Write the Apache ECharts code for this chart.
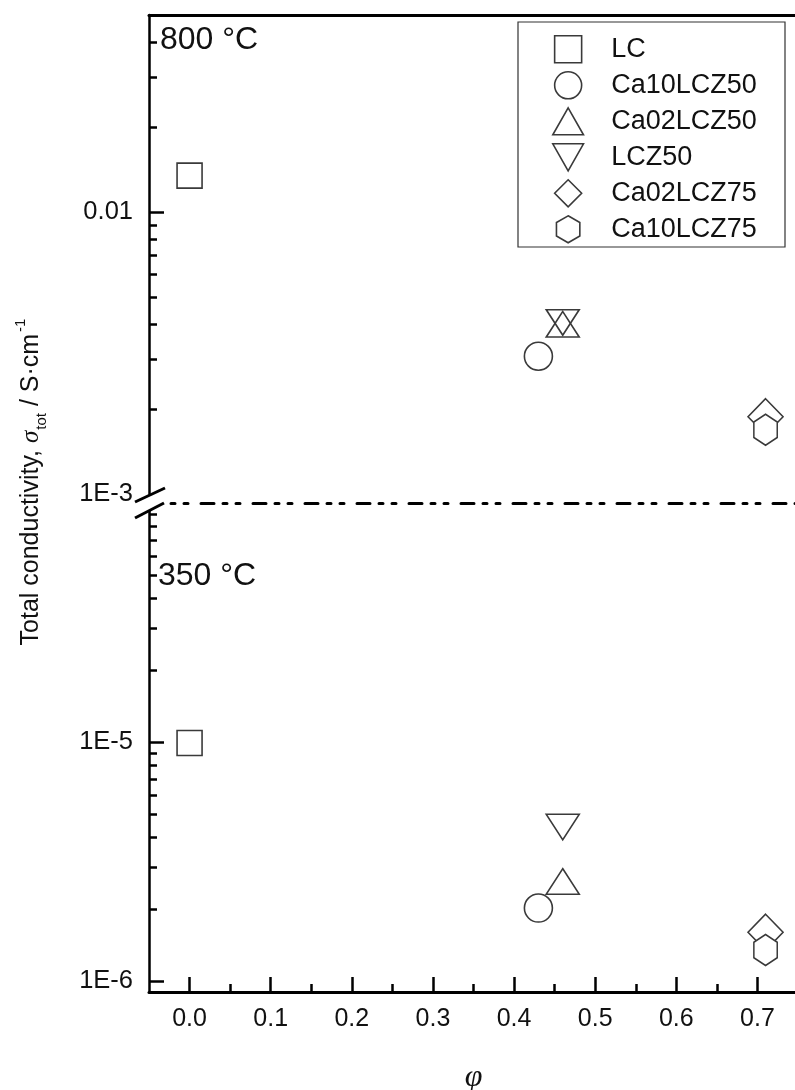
<!DOCTYPE html>
<html>
<head>
<meta charset="utf-8">
<script src="https://cdn.jsdelivr.net/npm/echarts@6/dist/echarts.min.js"></script>
<style>
html,body{margin:0;padding:0;background:#fff;}
#chart{width:795px;height:1090px;}
</style>
</head>
<body>
<div id="chart"></div>
<script>
// ---- data ----
const samples = ['LC', 'Ca10LCZ50', 'Ca02LCZ50', 'LCZ50', 'Ca02LCZ75', 'Ca10LCZ75'];
const phi = [0.0, 0.43, 0.46, 0.46, 0.71, 0.71];
const sigma800 = [0.01347, 0.00308, 0.00400, 0.00406, 0.00188, 0.00169];
const sigma350 = [9.9e-6, 2.02e-6, 2.61e-6, 4.41e-6, 1.60e-6, 1.35e-6];

const xMajorTicks = [0.0, 0.1, 0.2, 0.3, 0.4, 0.5, 0.6, 0.7];
const xMinorTicks = [0.05, 0.15, 0.25, 0.35, 0.45, 0.55, 0.65];
const upperMajorTicks = [0.01];
const upperLabelValues = [0.001, 0.01];
const upperLabels = ['1E-3', '0.01'];
const upperMinorTicks = [0.002, 0.003, 0.004, 0.005, 0.006, 0.007, 0.008, 0.009, 0.02, 0.03, 0.04];
const lowerMajorTicks = [1e-6, 1e-5];
const lowerLabelValues = [1e-6, 1e-5];
const lowerLabels = ['1E-6', '1E-5'];
const lowerMinorTicks = [2e-6, 3e-6, 4e-6, 5e-6, 6e-6, 7e-6, 8e-6, 9e-6, 2e-5, 3e-5, 4e-5, 5e-5, 6e-5, 7e-5, 8e-5, 9e-5];

// ---- styles ----
const FONT = 'Liberation Sans, Arial, sans-serif';
const symbols = [
  'path://M0,0H1V1H0Z',
  'circle',
  'path://M1,0L2,1.76L0,1.76Z',
  'path://M0,0L2,0L1,1.76Z',
  'path://M1,0L2,1L1,2L0,1Z',
  'path://M0.866,0L1.732,0.5L1.732,1.5L0.866,2L0,1.5L0,0.5Z'
];
const symbolSizes = [[25, 25], 28, [33, 29], [33, 29], [35, 36], [27, 31]];
const fills = ['rgba(255,255,255,0)', 'rgba(255,255,255,0)', 'rgba(255,255,255,0)', 'rgba(255,255,255,0)', 'rgba(255,255,255,0)', '#ffffff'];
const STROKE = '#3a3a3a';

function labelFor(values, labels) {
  return function (v) {
    for (let i = 0; i < values.length; i++) {
      if (Math.abs(Math.log10(v) - Math.log10(values[i])) < 1e-6) return labels[i];
    }
    return '';
  };
}

const chart = echarts.init(document.getElementById('chart'), null, {renderer: 'canvas'});

const grids = [
  {left: 149, top: 15, width: 649, height: 479, outerBoundsMode: 'none', containLabel: false},
  {left: 149, top: 503, width: 649, height: 489, outerBoundsMode: 'none', containLabel: false}
];

const xAxes = [
  { // upper grid top frame
    gridIndex: 0, type: 'value', min: -0.05, max: 0.75, position: 'top',
    axisLine: {show: true, onZero: false, lineStyle: {color: '#000', width: 3}},
    axisTick: {show: false}, axisLabel: {show: false}, splitLine: {show: false}
  },
  { // lower grid bottom axis with major ticks
    gridIndex: 1, type: 'value', min: -0.05, max: 0.75, position: 'bottom',
    axisLine: {show: true, onZero: false, lineStyle: {color: '#000', width: 3}},
    axisTick: {show: true, inside: true, length: 15, lineStyle: {color: '#000', width: 2.5}, customValues: xMajorTicks},
    axisLabel: {show: true, customValues: xMajorTicks, margin: 15, fontSize: 25, fontFamily: FONT, color: '#111',
      formatter: v => v.toFixed(1)},
    splitLine: {show: false},
    name: 'φ', nameLocation: 'middle', nameGap: 70,
    nameTextStyle: {fontFamily: 'Liberation Serif, Times New Roman, serif', fontStyle: 'italic', fontSize: 32, color: '#111'}
  },
  { // minor ticks
    gridIndex: 1, type: 'value', min: -0.05, max: 0.75, position: 'bottom',
    axisLine: {show: false, onZero: false},
    axisTick: {show: true, inside: true, length: 8, lineStyle: {color: '#000', width: 2.5}, customValues: xMinorTicks},
    axisLabel: {show: false}, splitLine: {show: false}
  },
  { // break line (dash-dot) at top of lower grid
    gridIndex: 1, type: 'value', min: -0.05, max: 0.75, position: 'top',
    axisLine: {show: true, onZero: false, lineStyle: {color: '#000', width: 3, type: [13, 9, 4, 9, 4, 13]}},
    axisTick: {show: false}, axisLabel: {show: false}, splitLine: {show: false}
  }
];

const yAxes = [
  {
    gridIndex: 0, type: 'log', logBase: 10, min: 0.001, max: 0.05, position: 'left',
    axisLine: {show: true, onZero: false, lineStyle: {color: '#000', width: 2.5}},
    axisTick: {show: true, inside: true, length: 15, lineStyle: {color: '#000', width: 2.5}, customValues: upperMajorTicks},
    axisLabel: {show: true, customValues: upperLabelValues, margin: 16, fontSize: 25.5, fontFamily: FONT, color: '#111',
      formatter: labelFor(upperLabelValues, upperLabels)},
    splitLine: {show: false}
  },
  {
    gridIndex: 0, type: 'log', logBase: 10, min: 0.001, max: 0.05, position: 'left',
    axisLine: {show: false, onZero: false},
    axisTick: {show: true, inside: true, length: 8, lineStyle: {color: '#000', width: 2.5}, customValues: upperMinorTicks},
    axisLabel: {show: false}, splitLine: {show: false}
  },
  {
    gridIndex: 1, type: 'log', logBase: 10, min: 9e-7, max: 1e-4, position: 'left',
    axisLine: {show: true, onZero: false, lineStyle: {color: '#000', width: 2.5}},
    axisTick: {show: true, inside: true, length: 15, lineStyle: {color: '#000', width: 2.5}, customValues: lowerMajorTicks},
    axisLabel: {show: true, customValues: lowerLabelValues, margin: 16, fontSize: 25.5, fontFamily: FONT, color: '#111',
      formatter: labelFor(lowerLabelValues, lowerLabels)},
    splitLine: {show: false}
  },
  {
    gridIndex: 1, type: 'log', logBase: 10, min: 9e-7, max: 1e-4, position: 'left',
    axisLine: {show: false, onZero: false},
    axisTick: {show: true, inside: true, length: 8, lineStyle: {color: '#000', width: 2.5}, customValues: lowerMinorTicks},
    axisLabel: {show: false}, splitLine: {show: false}
  }
];

const series = [];
samples.forEach((name, i) => {
  const common = {
    name: name, type: 'scatter', symbol: symbols[i], symbolSize: symbolSizes[i], symbolKeepAspect: true,
    itemStyle: {color: fills[i], borderColor: STROKE, borderWidth: 1.6, opacity: 1},
    emphasis: {disabled: true}, z: 3 + i
  };
  series.push(Object.assign({}, common, {xAxisIndex: 0, yAxisIndex: 0, data: [[phi[i], sigma800[i]]]}));
  series.push(Object.assign({}, common, {xAxisIndex: 1, yAxisIndex: 2, data: [[phi[i], sigma350[i]]]}));
});

const option = {
  backgroundColor: '#fff',
  animation: false,
  grid: grids,
  xAxis: xAxes,
  yAxis: yAxes,
  legend: {
    orient: 'vertical', left: 547, top: 30,
    itemWidth: 76, itemHeight: 27, itemGap: 7.4,
    symbolKeepAspect: true,
    selectedMode: false,
    data: samples,
    textStyle: {fontSize: 27, fontFamily: FONT, color: '#111', lineHeight: 27},
    itemStyle: {borderWidth: 1.6}
  },
  series: series,
  graphic: [
    { type: 'rect', shape: {x: 518, y: 22, width: 267, height: 225},
      style: {fill: 'none', stroke: '#333', lineWidth: 1.2}, z: 10 },
    { type: 'text', x: 160, y: 40,
      style: {text: '800 °C', fontSize: 32, fontFamily: FONT, fill: '#111', verticalAlign: 'middle'}, z: 10 },
    { type: 'text', x: 158, y: 576,
      style: {text: '350 °C', fontSize: 32, fontFamily: FONT, fill: '#111', verticalAlign: 'middle'}, z: 10 },
    // axis break
    { type: 'polygon', shape: {points: [[133, 503], [166, 487], [166, 503], [133, 519]]},
      style: {fill: '#fff', stroke: 'none'}, z: 20 },
    { type: 'line', shape: {x1: 135, y1: 502, x2: 165, y2: 488}, style: {stroke: '#000', lineWidth: 3}, z: 21 },
    { type: 'line', shape: {x1: 135, y1: 518, x2: 164, y2: 503}, style: {stroke: '#000', lineWidth: 3}, z: 21 },
    // y axis title
    { type: 'text', x: 31, y: 482, rotation: Math.PI / 2,
      style: {
        text: '{a|Total conductivity, }{s|σ}{b|tot}{a| / S·cm}{c|-1}',
        align: 'center', verticalAlign: 'middle',
        rich: {
          a: {fontSize: 25, fontFamily: FONT, fill: '#111', lineHeight: 36, verticalAlign: 'middle'},
          s: {fontSize: 25, fontFamily: 'Liberation Serif, serif', fontStyle: 'italic', fill: '#111', lineHeight: 36},
          b: {fontSize: 15, fontFamily: FONT, fill: '#111', lineHeight: 36, verticalAlign: 'bottom', padding: [14, 0, 0, 1]},
          c: {fontSize: 15, fontFamily: FONT, fill: '#111', lineHeight: 36, verticalAlign: 'top', padding: [0, 0, 14, 2]}
        }
      }, z: 10 }
  ]
};
chart.setOption(option);
</script>
</body>
</html>
